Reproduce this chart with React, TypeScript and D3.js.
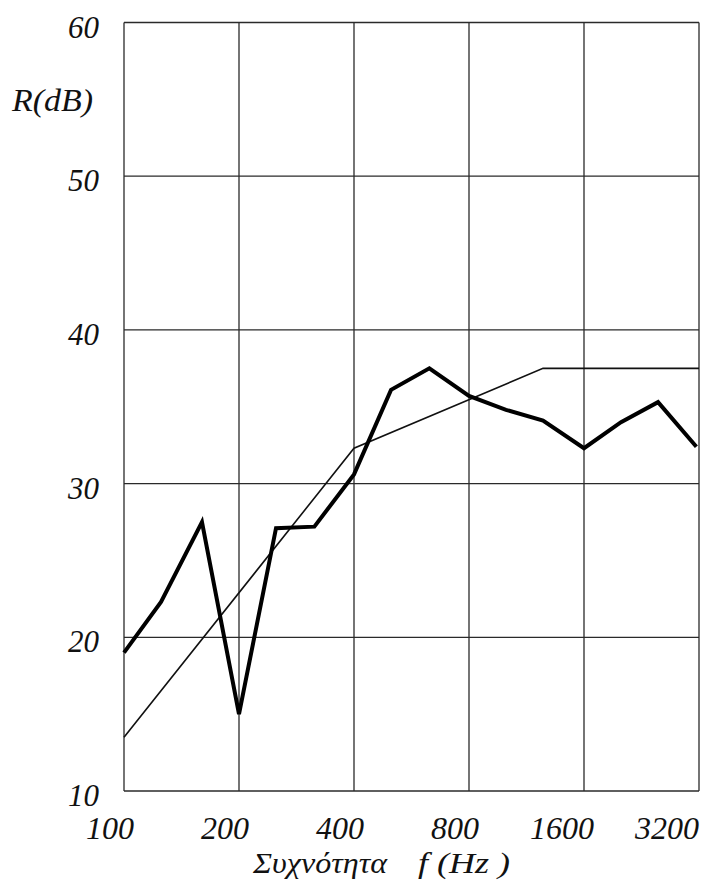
import React from "react";
import * as d3 from "d3";

const W = 702;
const H = 886;

const yTicks = [10, 20, 30, 40, 50, 60];
const xTicks = [100, 200, 400, 800, 1600, 3200];
const xTickLabels = ["100", "200", "400", "800", "1600", "3200"];

const measuredFreq = [100, 125, 160, 200, 250, 315, 400, 500, 630, 800, 1000, 1250, 1600, 2000, 2500, 3150];
const measuredR = [19.0, 22.3, 27.5, 15.0, 27.1, 27.2, 30.6, 36.1, 37.5, 35.7, 34.8, 34.1, 32.3, 34.0, 35.3, 32.4];

const refFreq = [100, 400, 1250, 3200];
const refR = [13.5, 32.3, 37.5, 37.5];

const FONT = "Liberation Serif, Times New Roman, Tinos, Times, DejaVu Serif, Noto Serif, serif";

export default function App() {
  const x = d3.scaleLog().domain([100, 3200]).range([124, 699]);
  const y = d3.scaleLinear().domain([10, 60]).range([791, 22.5]);

  const line = d3
    .line<[number, number]>()
    .x((d) => x(d[0]))
    .y((d) => y(d[1]));

  const measured = measuredFreq.map((f, i) => [f, measuredR[i]] as [number, number]);
  const ref = refFreq.map((f, i) => [f, refR[i]] as [number, number]);

  const textStyle: React.CSSProperties = { fontFamily: FONT, fontStyle: "italic" };

  return (
    <svg
      width={W}
      height={H}
      style={{ position: "absolute", left: 0, top: 0, background: "#fff" }}
    >
      <rect x={0} y={0} width={W} height={H} fill="#fff" />
      {/* grid */}
      <g stroke="#2a2a2a" strokeWidth={1.3}>
        {yTicks.map((t) => (
          <line key={"h" + t} x1={x(100)} x2={x(3200)} y1={y(t)} y2={y(t)} />
        ))}
        {xTicks.map((t) => (
          <line key={"v" + t} x1={x(t)} x2={x(t)} y1={y(10)} y2={y(60)} />
        ))}
      </g>
      {/* reference curve */}
      <path d={line(ref) || ""} fill="none" stroke="#111" strokeWidth={1.6} />
      {/* measured curve */}
      <path
        d={line(measured) || ""}
        fill="none"
        stroke="#000"
        strokeWidth={4}
        strokeLinejoin="miter"
      />
      {/* y labels */}
      <g style={textStyle} fontSize={31} fill="#111" textAnchor="end">
        {yTicks.map((t) => (
          <text key={"yl" + t} x={99} y={y(t) + 15}>
            {t}
          </text>
        ))}
      </g>
      <text
        x={12}
        y={111}
        style={textStyle}
        fontSize={31}
        fill="#111"
        textLength={81}
        lengthAdjust="spacingAndGlyphs"
      >
        R(dB)
      </text>
      {/* x labels */}
      <g style={textStyle} fontSize={32} fill="#111" textAnchor="end">
        {xTicks.map((t, i) => (
          <text key={"xl" + t} x={Math.min(x(t) + 10, 699)} y={839}>
            {xTickLabels[i]}
          </text>
        ))}
      </g>
      <g style={textStyle} fontSize={30} fill="#111">
        <text x={253} y={873} textLength={134} lengthAdjust="spacingAndGlyphs">
          Συχνότητα
        </text>
        <text
          x={418}
          y={873}
          textLength={92}
          lengthAdjust="spacingAndGlyphs"
          xmlSpace="preserve"
          style={{ whiteSpace: "pre" }}
        >
          {"f (Hz )"}
        </text>
      </g>
    </svg>
  );
}
